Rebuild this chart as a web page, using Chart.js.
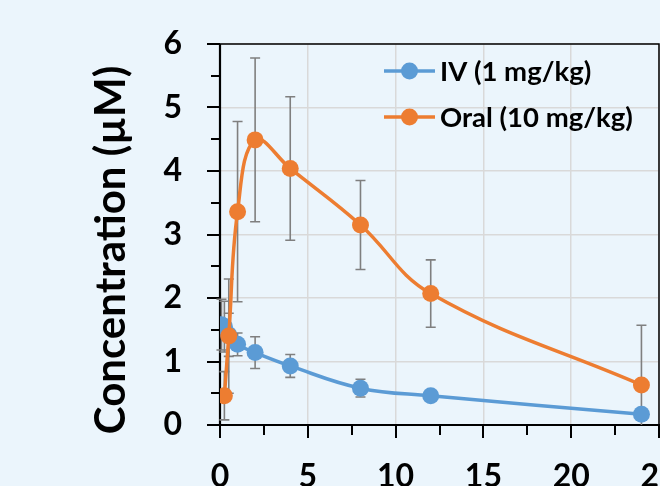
<!DOCTYPE html>
<html>
<head>
<meta charset="utf-8">
<script src="https://cdn.jsdelivr.net/npm/chart.js@4/dist/chart.umd.min.js"></script>
<style>
  html, body { margin: 0; padding: 0; background: #EBF5FC; }
  #wrap { width: 660px; height: 486px; }
</style>
</head>
<body>
<div id="wrap"><canvas id="grafico" width="660" height="486"></canvas></div>
<script>
// datos (tiempo en h, concentracion en uM)
const ivTimes = [0.083, 0.25, 0.5, 1, 2, 4, 8, 12, 24];
const ivConc = [1.58, 1.55, 1.42, 1.27, 1.14, 0.93, 0.58, 0.46, 0.17];
const ivSd = [0.40, 0.40, 0.34, 0.18, 0.25, 0.18, 0.14, 0.04, 0.03];

const oralTimes = [0.25, 0.5, 1, 2, 4, 8, 12, 24];
const oralConc = [0.46, 1.40, 3.36, 4.49, 4.04, 3.15, 2.07, 0.63];
const oralSd = [0.38, 0.90, 1.42, 1.29, 1.13, 0.70, 0.53, 0.94];

const xTicks = [0, 5, 10, 15, 20, 25];
const yTicks = [0, 1, 2, 3, 4, 5, 6];
const seriesLabels = ['IV (1 mg/kg)', 'Oral (10 mg/kg)'];
const yTitle = 'Concentration (µM)';

const FONT = 'Lato';

function puntos(ts, cs, sds) {
    return ts.map((t, i) => ({ x: t, y: cs[i], sd: sds[i] }));
}

// barras de error (detras de los puntos)
const errorBars = {
    id: 'errorBars',
    beforeDatasetsDraw(chart) {
        const ctx = chart.ctx;
        const xs = chart.scales.x, ys = chart.scales.y;
        const area = chart.chartArea;
        ctx.save();
        ctx.strokeStyle = '#7f7f7f';
        ctx.lineWidth = 1.6;
        chart.data.datasets.forEach(ds => {
            ds.data.forEach(p => {
                const px = xs.getPixelForValue(p.x);
                let top = ys.getPixelForValue(p.y + p.sd);
                let bot = ys.getPixelForValue(p.y - p.sd);
                const capBot = bot <= area.bottom;
                bot = Math.min(bot, area.bottom);
                ctx.beginPath();
                ctx.moveTo(px, top); ctx.lineTo(px, bot);
                ctx.moveTo(px - 5, top); ctx.lineTo(px + 5, top);
                if (capBot) { ctx.moveTo(px - 5, bot); ctx.lineTo(px + 5, bot); }
                ctx.stroke();
            });
        });
        ctx.restore();
    }
};

// marco, ejes, marcas menores, etiquetas del eje x y titulo del eje y
const marco = {
    id: 'marco',
    beforeDatasetsDraw(chart) {
        const ctx = chart.ctx;
        const { left, right, top, bottom } = chart.chartArea;
        const xs = chart.scales.x, ys = chart.scales.y;
        ctx.save();
        ctx.strokeStyle = '#000';
        ctx.lineWidth = 1.5;
        ctx.beginPath();
        ctx.moveTo(left, top); ctx.lineTo(right, top); ctx.lineTo(right, bottom);
        ctx.stroke();
        ctx.lineWidth = 2.2;
        ctx.beginPath();
        ctx.moveTo(left, top); ctx.lineTo(left, bottom); ctx.lineTo(right + 1, bottom);
        ctx.stroke();
        ctx.lineWidth = 2;
        ctx.beginPath();
        for (let v = 0; v <= 6; v += 0.5) {
            const py = Math.round(ys.getPixelForValue(v));
            const len = Number.isInteger(v) ? 13 : 9;
            ctx.moveTo(left - len, py); ctx.lineTo(left, py);
        }
        for (let v = 0; v <= 25; v += 2.5) {
            const px = Math.round(xs.getPixelForValue(v));
            const len = (v % 5 === 0) ? 13 : 10;
            ctx.moveTo(px, bottom); ctx.lineTo(px, bottom + len);
        }
        ctx.stroke();

        ctx.fillStyle = '#000';
        ctx.font = `bold 32px ${FONT}`;
        ctx.textAlign = 'center';
        ctx.textBaseline = 'alphabetic';
        xTicks.forEach(v => {
            ctx.fillText(String(v), xs.getPixelForValue(v), bottom + 62);
        });

        ctx.translate(125, 250);
        ctx.rotate(-Math.PI / 2);
        ctx.font = `bold 42px ${FONT}`;
        ctx.fillText(yTitle, 0, 0);
        ctx.restore();
    }
};

// leyenda dentro del area
const leyenda = {
    id: 'leyenda',
    afterDraw(chart) {
        const ctx = chart.ctx;
        ctx.save();
        chart.data.datasets.forEach((ds, i) => {
            const y = 71 + i * 46;
            ctx.strokeStyle = ds.borderColor;
            ctx.lineWidth = 3.5;
            ctx.beginPath();
            ctx.moveTo(384, y); ctx.lineTo(435, y);
            ctx.stroke();
            ctx.fillStyle = ds.backgroundColor;
            ctx.beginPath();
            ctx.arc(409.5, y, 8.5, 0, Math.PI * 2);
            ctx.fill();
            ctx.fillStyle = '#000';
            ctx.font = `bold 27.5px ${FONT}`;
            ctx.textBaseline = 'middle';
            ctx.textAlign = 'left';
            ctx.fillText(ds.label, 440, y + 1);
        });
        ctx.restore();
    }
};

const ctx = document.getElementById('grafico').getContext('2d');
const chart = new Chart(ctx, {
    type: 'scatter',
    data: {
        datasets: [{
            label: seriesLabels[0],
            data: puntos(ivTimes, ivConc, ivSd),
            borderColor: '#5B9BD5',
            backgroundColor: '#5B9BD5',
            borderWidth: 3.5,
            pointRadius: 8.5,
            pointHoverRadius: 8.5,
            pointBorderWidth: 0,
            showLine: true,
            tension: 0.4,
            order: 1
        }, {
            label: seriesLabels[1],
            data: puntos(oralTimes, oralConc, oralSd),
            borderColor: '#ED7D31',
            backgroundColor: '#ED7D31',
            borderWidth: 3.5,
            pointRadius: 8.5,
            pointHoverRadius: 8.5,
            pointBorderWidth: 0,
            showLine: true,
            tension: 0.4,
            order: 0
        }]
    },
    options: {
        responsive: false,
        animation: false,
        devicePixelRatio: 1,
        layout: { autoPadding: false, padding: { top: 44, right: 1, left: 0, bottom: 0 } },
        plugins: {
            legend: { display: false },
            tooltip: { enabled: false }
        },
        scales: {
            x: {
                type: 'linear',
                min: xTicks[0],
                max: xTicks[xTicks.length - 1],
                afterBuildTicks: s => { s.ticks = xTicks.map(v => ({ value: v })); },
                ticks: { display: false },
                grid: { color: '#d9d9d9', lineWidth: 1.5, drawTicks: false },
                border: { display: false },
                afterFit: s => { s.height = 61; }
            },
            y: {
                min: yTicks[0],
                max: yTicks[yTicks.length - 1],
                afterBuildTicks: s => { s.ticks = yTicks.map(v => ({ value: v })); },
                ticks: {
                    color: '#000',
                    font: { family: FONT, size: 32, weight: 'bold' },
                    padding: 38
                },
                grid: { color: '#d9d9d9', lineWidth: 1.5, drawTicks: false },
                border: { display: false },
                afterFit: s => { s.width = 220; s.paddingTop = 0; s.paddingBottom = 0; }
            }
        }
    },
    plugins: [marco, errorBars, leyenda]
});
</script>
</body>
</html>
